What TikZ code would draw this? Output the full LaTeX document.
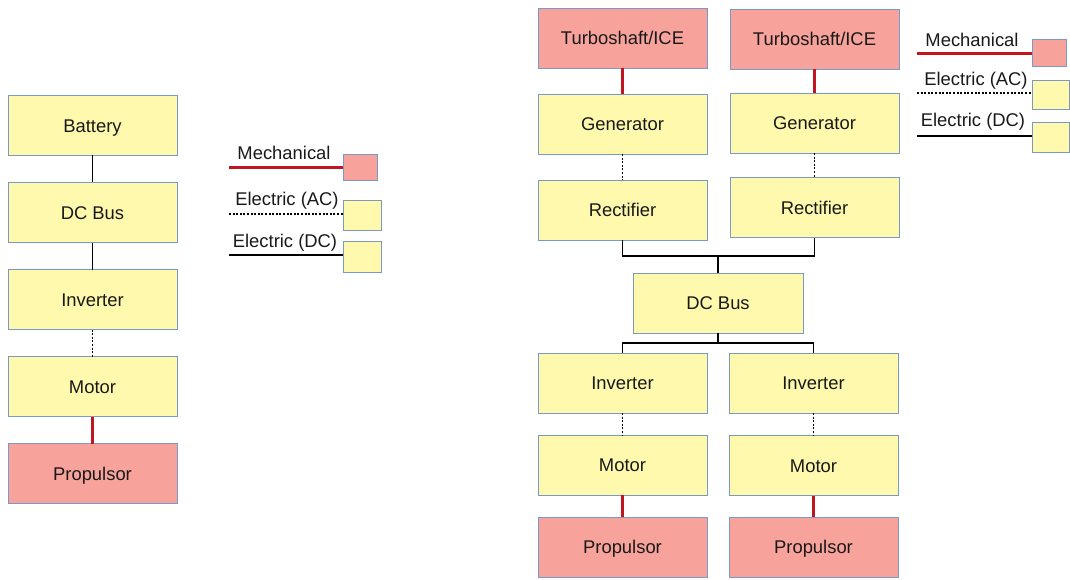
\documentclass[tikz,border=0pt]{standalone}
\usepackage{fontspec}
\setmainfont{Liberation Sans}
\definecolor{boxyel}{HTML}{FFF9AE}
\definecolor{boxred}{HTML}{F7A29B}
\definecolor{boxedge}{HTML}{7A9AC6}
\definecolor{mechred}{HTML}{C0161E}
\tikzset{
  blk/.style={draw=boxedge, line width=0.9pt, rectangle, inner sep=0pt, outer sep=0pt, font=\fontsize{18.4}{22}\selectfont, text=black!90, text height=13.2pt, text depth=0pt},
  elec/.style={blk, fill=boxyel},
  mech/.style={blk, fill=boxred},
  dc/.style={black, line width=1.4pt},
  ac/.style={black, line width=1.2pt, dash pattern=on 2pt off 1.6pt},
  mline/.style={mechred, line width=3pt},
  legtxt/.style={font=\fontsize{18.4}{22}\selectfont, inner sep=0pt, text=black!90, text height=13.2pt, text depth=0pt},
}
\begin{document}
\begin{tikzpicture}[x=1pt,y=-1pt]
\useasboundingbox (0,0) rectangle (1070,580);
% ---- left column
\node[elec, minimum width=169pt, minimum height=60pt] (bat) at (92.5,125.5) {Battery};
\node[elec, minimum width=169pt, minimum height=60pt] (ldc) at (92.5,212.5) {DC Bus};
\node[elec, minimum width=169pt, minimum height=60pt] (linv) at (92.5,299.5) {Inverter};
\node[elec, minimum width=169pt, minimum height=60pt] (lmot) at (92.5,386.5) {Motor};
\node[mech, minimum width=169pt, minimum height=60pt] (lprop) at (92.5,473.5) {Propulsor};
\draw[dc] (bat.south) -- (ldc.north);
\draw[dc] (ldc.south) -- (linv.north);
\draw[ac] (linv.south) -- (lmot.north);
\draw[mline] (lmot.south) -- (lprop.north);
% ---- left legend
\node[mech, minimum width=34pt, minimum height=26pt] (lkm) at (360,167) {};
\node[elec, minimum width=38pt, minimum height=30pt] (lka) at (362,215) {};
\node[elec, minimum width=38pt, minimum height=31pt] (lkd) at (362,256.5) {};
\coordinate (lsm) at (229,168);
\coordinate (lsa) at (229,214);
\coordinate (lsd) at (229,255);
\draw[mline] (lsm) -- (lkm.west |- lsm);
\draw[ac] (lsa) -- (lka.west |- lsa);
\draw[dc] (lsd) -- (lkd.west |- lsd);
\node[legtxt] (ltm) at (284,152.5) {Mechanical};
\node[legtxt] (lta) at (287,198.5) {Electric (AC)};
\node[legtxt] (ltd) at (285,240.5) {Electric (DC)};
% ---- right diagram
\node[mech, minimum width=169pt, minimum height=60pt] (t1) at (622.5,38) {Turboshaft/ICE};
\node[mech, minimum width=169pt, minimum height=60pt] (t2) at (814.5,39) {Turboshaft/ICE};
\node[elec, minimum width=169pt, minimum height=60pt] (g1) at (622.5,124) {Generator};
\node[elec, minimum width=169pt, minimum height=60pt] (g2) at (814.5,123) {Generator};
\node[elec, minimum width=169pt, minimum height=60pt] (r1) at (622.5,210) {Rectifier};
\node[elec, minimum width=169pt, minimum height=60pt] (r2) at (814.5,207.5) {Rectifier};
\node[elec, minimum width=170pt, minimum height=60pt] (bus) at (718,303) {DC Bus};
\node[elec, minimum width=169pt, minimum height=60pt] (i1) at (622.5,383) {Inverter};
\node[elec, minimum width=169pt, minimum height=60pt] (i2) at (813.5,383) {Inverter};
\node[elec, minimum width=169pt, minimum height=60pt] (m1) at (622.5,465) {Motor};
\node[elec, minimum width=169pt, minimum height=60pt] (m2) at (813.5,465.5) {Motor};
\node[mech, minimum width=169pt, minimum height=60pt] (p1) at (622.5,547) {Propulsor};
\node[mech, minimum width=169pt, minimum height=60pt] (p2) at (813.5,547) {Propulsor};
\coordinate (jt) at (718,256);
\coordinate (jb) at (718,343);
\draw[mline] (t1.south) -- (g1.north);
\draw[mline] (t2.south) -- (g2.north);
\draw[ac] (g1.south) -- (r1.north);
\draw[ac] (g2.south) -- (r2.north);
\draw[dc] (r1.south) |- (jt) -| (r2.south);
\draw[dc] (jt) -- (bus.north);
\draw[dc] (bus.south) -- (jb);
\draw[dc] (i1.north) |- (jb) -| (i2.north);
\draw[ac] (i1.south) -- (m1.north);
\draw[ac] (i2.south) -- (m2.north);
\draw[mline] (m1.south) -- (p1.north);
\draw[mline] (m2.south) -- (p2.north);
% ---- right legend
\node[mech, minimum width=34pt, minimum height=27pt] (rkm) at (1049,52.5) {};
\node[elec, minimum width=37pt, minimum height=29pt] (rka) at (1050.5,94.5) {};
\node[elec, minimum width=37pt, minimum height=30pt] (rkd) at (1050.5,137) {};
\coordinate (rsm) at (917,54);
\coordinate (rsa) at (917,93);
\coordinate (rsd) at (917,136);
\draw[mline] (rsm) -- (rkm.west |- rsm);
\draw[ac] (rsa) -- (rka.west |- rsa);
\draw[dc] (rsd) -- (rkd.west |- rsd);
\node[legtxt] (rtm) at (972,39.5) {Mechanical};
\node[legtxt] (rta) at (976,78.5) {Electric (AC)};
\node[legtxt] (rtd) at (973,119.5) {Electric (DC)};
\end{tikzpicture}
\end{document}
